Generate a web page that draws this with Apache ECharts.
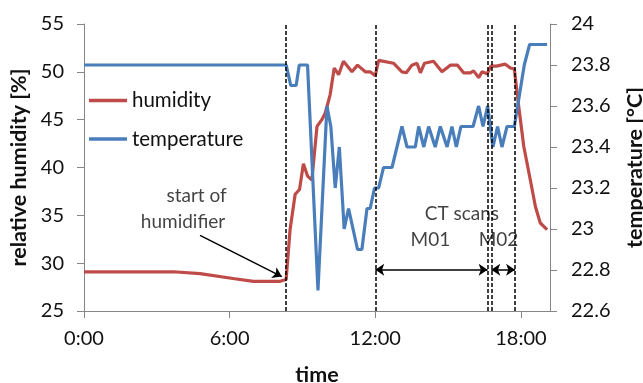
<!DOCTYPE html>
<html>
<head>
<meta charset="utf-8">
<script src="https://cdn.jsdelivr.net/npm/echarts@6/dist/echarts.min.js"></script>
<style>
html,body{margin:0;padding:0;background:#fff;}
#chart{width:643px;height:383px;}
</style>
</head>
<body>
<div id="chart"></div>
<script>
// time in hours since 0:00
var humTime = [0, 3.68, 4.78, 6.14, 6.98, 8.08, 8.33, 8.49, 8.70, 8.88, 9.04, 9.21, 9.39, 9.60, 9.80, 9.94, 10.14, 10.31, 10.49, 10.69, 11.04, 11.27, 11.59, 11.79, 12.00, 12.14, 12.75, 13.10, 13.28, 13.51, 13.72, 13.86, 14.03, 14.40, 14.75, 15.09, 15.39, 15.64, 15.92, 16.05, 16.26, 16.40, 16.61, 16.77, 16.99, 17.36, 17.57, 17.73, 17.91, 18.12, 18.39, 18.60, 18.80, 19.08];
var humValue = [29.1, 29.1, 28.9, 28.4, 28.1, 28.1, 28.3, 33.5, 37.2, 37.7, 40.4, 39.1, 38.7, 44.3, 45.0, 45.7, 47.6, 50.4, 49.7, 51.1, 50.0, 50.7, 50.0, 50.0, 49.6, 51.2, 50.9, 50.0, 49.9, 50.7, 50.9, 49.9, 50.9, 51.1, 50.0, 50.7, 50.7, 49.9, 49.9, 50.1, 49.4, 50.0, 49.8, 50.6, 50.6, 50.8, 50.4, 50.3, 46.4, 42.2, 38.7, 35.9, 34.2, 33.5];
var tempTime = [0, 8.33, 8.52, 8.74, 8.87, 9.21, 9.64, 10.01, 10.17, 10.35, 10.52, 10.72, 10.90, 11.27, 11.45, 11.66, 11.79, 11.97, 12.14, 12.34, 12.69, 13.10, 13.31, 13.65, 13.79, 14.00, 14.20, 14.47, 14.68, 14.96, 15.16, 15.34, 15.53, 16.03, 16.26, 16.44, 16.63, 16.85, 17.04, 17.22, 17.43, 17.73, 18.14, 18.36, 19.08];
var tempValue = [23.8, 23.8, 23.7, 23.7, 23.8, 23.8, 22.7, 23.6, 23.5, 23.2, 23.4, 23.0, 23.1, 22.9, 22.9, 23.1, 23.1, 23.2, 23.2, 23.3, 23.3, 23.5, 23.4, 23.4, 23.5, 23.4, 23.5, 23.4, 23.5, 23.4, 23.5, 23.4, 23.5, 23.5, 23.6, 23.5, 23.6, 23.4, 23.5, 23.4, 23.5, 23.5, 23.8, 23.9, 23.9];
var eventTimes = [8.33, 12.0, 16.63, 16.78, 17.76];
var xTickValues = [0, 6, 12, 18];
var humTicks = [25, 55, 5];      // min, max, step
var tempTicks = [22.6, 24, 0.2]; // min, max, step
// annotations: [text, time, humidity-level]
var noteTexts = ['start of', 'humidifier', 'CT scans', 'M01', 'M02'];
var noteTimes = [4.64, 4.08, 15.57, 14.27, 17.08];
var noteLevels = [37.0, 34.3, 35.2, 32.4, 32.4];
var arrowLevel = 29.3;
var pointerFrom = [4.78, 32.9];
var pointerTo = [8.15, 28.6];

var FONT = 'Lato';
var humData = humTime.map(function (t, i) { return [t, humValue[i]]; });
var tempData = tempTime.map(function (t, i) { return [t, tempValue[i]]; });
var notes = noteTexts.map(function (s, i) { return { name: s, value: [noteTimes[i], noteLevels[i]] }; });

var axisLineStyle = { color: '#868686', width: 1 };
var titleStyle = { fontFamily: FONT, fontSize: 21.5, fontWeight: 'bold', color: '#111' };
var chart = echarts.init(document.getElementById('chart'), null, { renderer: 'canvas' });
chart.setOption({
  animation: false,
  textStyle: { fontFamily: FONT },
  grid: { left: 84, right: 93, top: 24, bottom: 72, containLabel: false, outerBoundsMode: 'none' },
  legend: {
    data: ['humidity', 'temperature'],
    orient: 'vertical', left: 84, top: 85,
    icon: 'rect', itemWidth: 38, itemHeight: 3.5, itemGap: 17.5,
    textStyle: { fontFamily: FONT, fontSize: 20.5, color: '#111' }
  },
  xAxis: {
    type: 'value', min: 0, max: 19.2, interval: 6,
    name: 'time', nameLocation: 'middle', nameGap: 53,
    nameTextStyle: titleStyle,
    axisLine: { lineStyle: axisLineStyle },
    axisTick: { show: true, length: 7, lineStyle: axisLineStyle, customValues: xTickValues },
    axisLabel: { customValues: xTickValues, margin: 18, fontSize: 20, color: '#111', fontFamily: FONT,
      formatter: function (v) { return Math.round(v) + ':00'; } },
    splitLine: { show: false }
  },
  yAxis: [{
    type: 'value', min: humTicks[0], max: humTicks[1], interval: humTicks[2],
    name: 'relative humidity [%]', nameLocation: 'middle', nameGap: 50,
    nameTextStyle: titleStyle,
    axisLine: { show: true, lineStyle: axisLineStyle },
    axisTick: { show: true, length: 7, lineStyle: axisLineStyle },
    axisLabel: { margin: 20, fontSize: 20, color: '#111', fontFamily: FONT },
    splitLine: { show: false }
  }, {
    type: 'value', min: tempTicks[0], max: tempTicks[1], interval: tempTicks[2],
    position: 'right',
    name: 'temperature [°C]', nameLocation: 'middle', nameGap: 74,
    nameTextStyle: titleStyle,
    axisLine: { show: true, lineStyle: axisLineStyle },
    axisTick: { show: true, length: 7, lineStyle: axisLineStyle },
    axisLabel: { margin: 21, fontSize: 20, color: '#111', fontFamily: FONT,
      formatter: function (v) { return String(+v.toFixed(1)); } },
    splitLine: { show: false }
  }],
  series: [{
    name: 'humidity', type: 'line', yAxisIndex: 0, data: humData,
    symbol: 'none', color: '#BE4B48', lineStyle: { width: 3.2, color: '#BE4B48' },
    z: 3,
    markLine: {
      silent: true, symbol: 'none', animation: false,
      label: { show: false },
      lineStyle: { type: [4, 2], color: '#000', width: 1.5 },
      data: eventTimes.map(function (t) { return { xAxis: t }; })
    }
  }, {
    name: 'temperature', type: 'line', yAxisIndex: 1, data: tempData,
    symbol: 'none', color: '#4A7EBB', lineStyle: { width: 3.2, color: '#4A7EBB' },
    z: 4
  }, {
    name: 'arrows', type: 'line', yAxisIndex: 0, data: [],
    markLine: {
      silent: true, animation: false,
      symbol: ['arrow', 'arrow'], symbolSize: 9,
      label: { show: false },
      lineStyle: { type: 'solid', color: '#000', width: 1.5 },
      data: [
        [{ coord: [eventTimes[1], arrowLevel] }, { coord: [eventTimes[2], arrowLevel] }],
        [{ coord: [eventTimes[3], arrowLevel] }, { coord: [eventTimes[4], arrowLevel] }],
        [{ coord: pointerFrom, symbol: 'none' }, { coord: pointerTo, symbol: 'arrow' }]
      ]
    }
  }, {
    name: 'notes', type: 'scatter', yAxisIndex: 0, data: notes,
    symbolSize: 0, silent: true,
    label: { show: true, position: 'inside', formatter: '{b}', fontSize: 19, color: '#111', fontFamily: FONT }
  }]
});
</script>
</body>
</html>
